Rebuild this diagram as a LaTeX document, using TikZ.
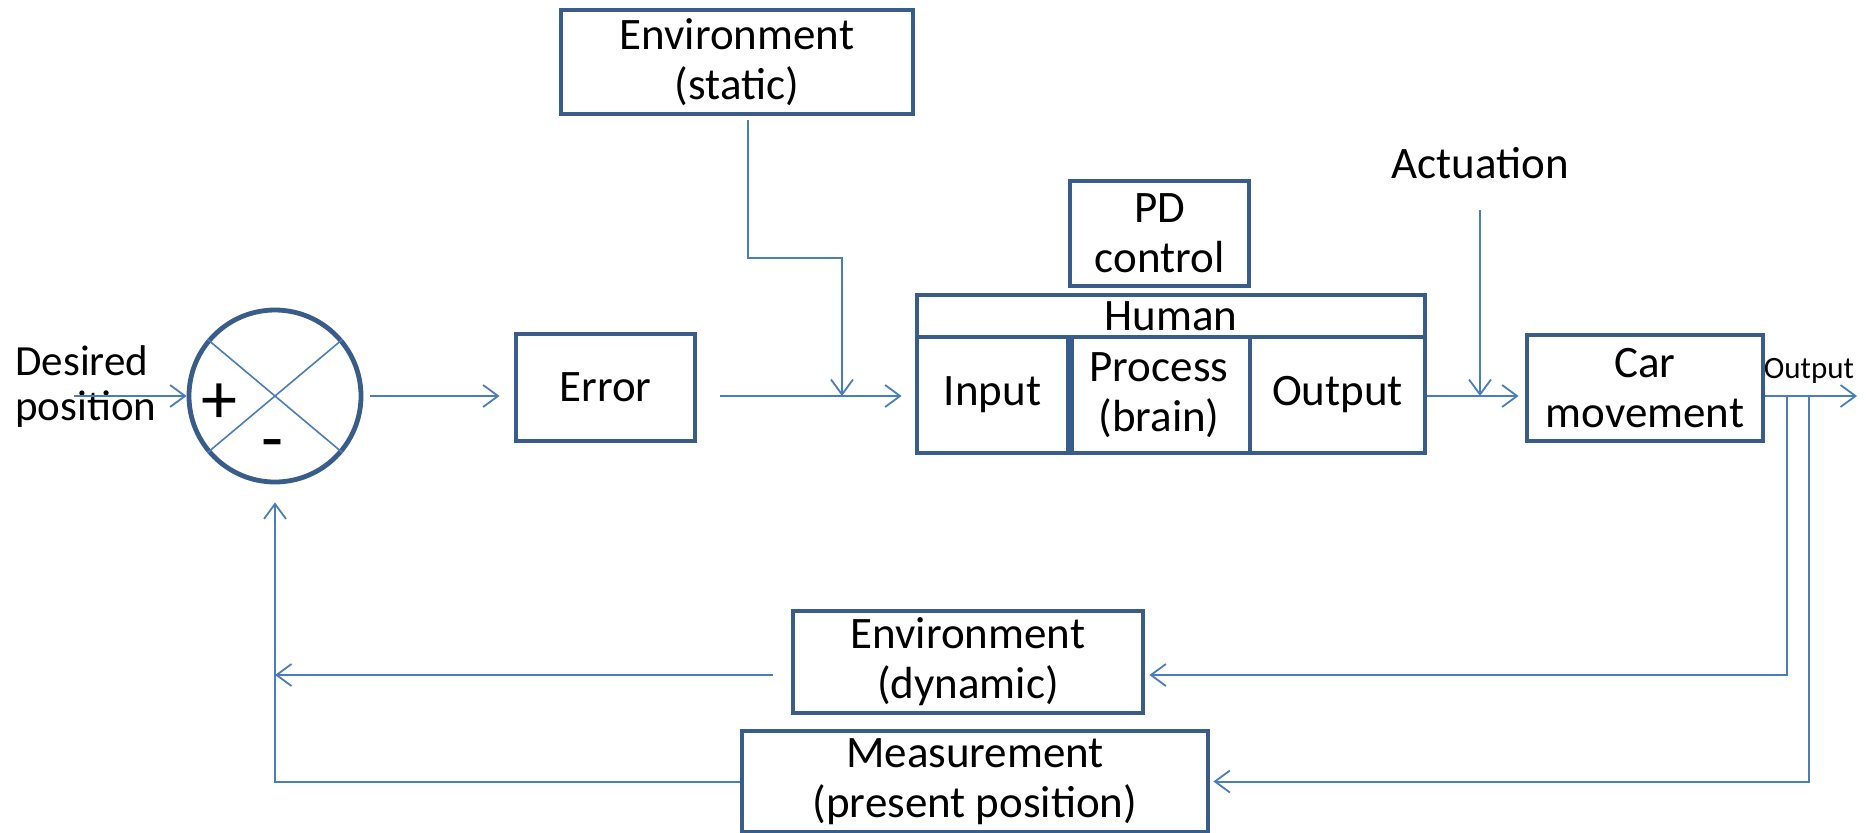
\documentclass[tikz,border=0pt]{standalone}
\usepackage{fontspec}
\setmainfont{Carlito}
\usetikzlibrary{arrows.meta}
\definecolor{boxblue}{HTML}{385D8A}
\definecolor{lineblue}{HTML}{4A7EBB}
\begin{document}
\begin{tikzpicture}[x=0.5pt,y=-0.5pt,
  box/.style={draw=boxblue, line width=2.4pt, fill=white, inner sep=0pt, align=center,
    font=\fontsize{22.5}{25}\selectfont, anchor=center},
  lbl/.style={inner sep=0pt, align=center, font=\fontsize{22.5}{25}\selectfont},
  sign/.style={inner sep=0pt, font=\fontsize{36}{36}\selectfont},
  conn/.style={draw=lineblue, line width=1pt},
  xline/.style={draw=lineblue, line width=0.8pt},
  arr/.style={conn, -{Straight Barb[length=7.5pt,width=11pt,line width=0.9pt]}},
]
\fill[white] (0,0) rectangle (1870,832);
\useasboundingbox (0,0) rectangle (1870,832);

% summing junction
\node[circle, draw=boxblue, line width=2.4pt, minimum size=86pt, inner sep=0pt] (sum) at (275,396) {};
\draw[xline] (sum.140) -- (sum.-40);
\draw[xline] (sum.40) -- (sum.220);
\node[sign] (plus) at (219,404) {+};
\node[sign] (minus) at (273,451) {-};

% labels
\node[lbl, anchor=west, align=left, font=\fontsize{21.5}{22.5}\selectfont] (des) at (15,387) {Desired\\position};
\node[lbl] (act) at (1480,163) {Actuation};
\node[lbl, font=\fontsize{15.5}{17}\selectfont] (outlbl) at (1809,371) {Output};

% boxes
\node[box, minimum width=176pt, minimum height=52pt] (envs) at (737,62) {Environment\\(static)};
\node[box, minimum width=89.5pt, minimum height=53.5pt] (err) at (605.5,387.5) {Error};
\node[box, minimum width=89.5pt, minimum height=52.5pt] (pd) at (1159.5,233.5) {PD\\control};
\node[box, minimum width=254pt, minimum height=21pt] (human) at (1171,316) {Human};
\node[box, minimum width=75.5pt, minimum height=58pt] (in) at (992.5,395) {Input};
\node[box, minimum width=91pt, minimum height=58pt] (proc) at (1159,395) {Process\\(brain)};
\node[box, minimum width=87.5pt, minimum height=58pt] (hout) at (1337.5,395) {Output};
\node[box, minimum width=118pt, minimum height=53pt] (car) at (1645,388) {Car\\movement};
\node[box, minimum width=175pt, minimum height=51pt] (envd) at (968,662) {Environment\\(dynamic)};
\node[box, minimum width=233pt, minimum height=50.5pt] (meas) at (975,781.5) {Measurement\\(present position)};
\draw[boxblue, line width=3.4pt] (in.north east) -- (in.south east);

% coordinates
\coordinate (desin) at (74,396);
\coordinate (j1) at (842,396);
\coordinate (j2) at (1480,396);
\coordinate (outend) at (1857,396);
\coordinate (fb1) at (1787,396);
\coordinate (fb2) at (1809,396);
\coordinate (fbr1) at (1787,675);
\coordinate (lj) at (275,675);

% connectors
\draw[arr] (desin) -- (sum.west);
\draw[arr, shorten <=3.5pt, shorten >=7pt] (sum.east) -- (err.west |- sum.east);
\draw[arr, shorten <=11.5pt, shorten >=6.5pt] (err.east |- sum.east) -- (in.west |- sum.east);
\draw[arr, shorten <=2pt] ([xshift=5.5pt]envs.south) -- ++(0,142) -| (j1);
\draw[arr, shorten >=3pt] (hout.east |- sum.east) -- (car.west |- sum.east);
\draw[arr, shorten <=15.5pt] (act.south) -- (j2);
\draw[arr] (car.east |- sum.east) -- (outend);
\draw[arr, shorten >=2pt] (fb1) -- (fbr1) -- (envd.east |- fbr1);
\draw[arr, shorten >=1.5pt] (fb2) |- (meas.east);
\draw[arr, shorten <=9pt] (envd.west |- fbr1) -- (lj);
\draw[arr, shorten >=9pt] (meas.west) -| (sum.south);
\end{tikzpicture}
\end{document}
